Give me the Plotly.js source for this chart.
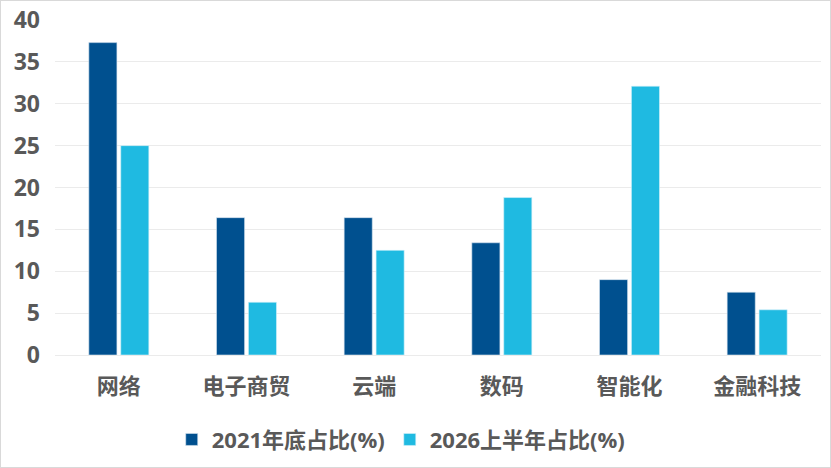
<!DOCTYPE html>
<html>
<head>
<meta charset="utf-8">
<script src="https://cdn.plot.ly/plotly-3.0.1.min.js"></script>
<style>
  body { margin: 0; background: #fff; }
  #chart { width: 831px; height: 468px; }
  #frame { position: absolute; left: 0; top: 0; width: 831px; height: 468px;
           box-sizing: border-box; border: 1px solid #d9d9d9; pointer-events: none; }
</style>
</head>
<body>
<div id="chart"></div>
<div id="frame"></div>
<script>
var categories = ['网络', '电子商贸', '云端', '数码', '智能化', '金融科技'];
var share2021 = [37.3, 16.4, 16.4, 13.4, 9.0, 7.5];
var share2026 = [25.0, 6.3, 12.5, 18.8, 32.1, 5.4];
var seriesNames = ['2021年底占比(%)', '2026上半年占比(%)'];
var yTicks = [0, 5, 10, 15, 20, 25, 30, 35, 40];

var textFont = { family: '"Open Sans", "Noto Sans CJK SC", sans-serif', size: 22, color: '#595959', weight: 'bold' };
var yTickFont = { family: '"Open Sans", "Noto Sans CJK SC", sans-serif', size: 23, color: '#595959', weight: 'bold' };

var data = [
  {
    type: 'bar',
    name: seriesNames[0],
    x: categories,
    y: share2021,
    marker: { color: '#00508f', line: { color: '#d6e4f0', width: 0.6 } }
  },
  {
    type: 'bar',
    name: seriesNames[1],
    x: categories,
    y: share2026,
    marker: { color: '#1fbae1', line: { color: '#d6f1fa', width: 0.6 } }
  }
];

var layout = {
  width: 831,
  height: 468,
  margin: { l: 55, r: 10, t: 20, b: 113, autoexpand: false },
  paper_bgcolor: '#fff',
  plot_bgcolor: '#fff',
  barmode: 'group',
  bargap: 0.5,
  bargroupgap: 0.12,
  font: textFont,
  xaxis: {
    showgrid: false,
    showline: false,
    ticks: '',
    automargin: false,
    tickfont: textFont,
    ticklabelstandoff: 16
  },
  yaxis: {
    range: [0, 40],
    tickvals: yTicks,
    showgrid: true,
    gridcolor: '#ebebeb',
    zeroline: true,
    zerolinecolor: '#ebebeb',
    showline: false,
    ticks: '',
    automargin: false,
    tickfont: yTickFont,
    ticklabelstandoff: 14
  },
  legend: {
    orientation: 'h',
    x: 0.452,
    xanchor: 'center',
    y: -0.19,
    yanchor: 'top',
    font: textFont,
    itemwidth: 30
  },
  showlegend: true
};

Plotly.newPlot('chart', data, layout, { displayModeBar: false, staticPlot: true });
</script>
</body>
</html>
